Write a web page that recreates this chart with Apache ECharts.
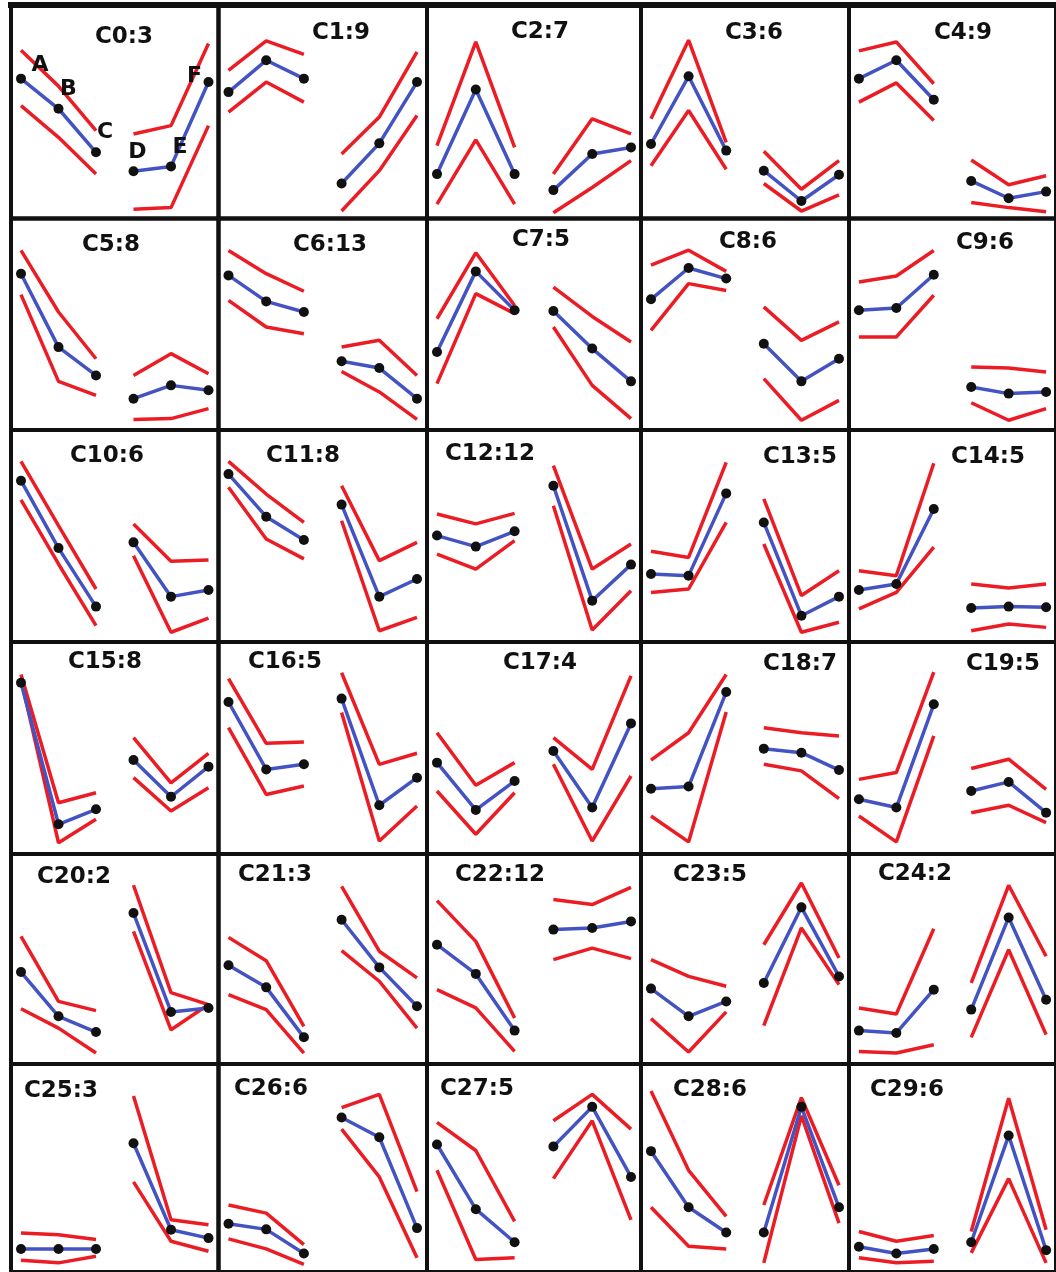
<!DOCTYPE html>
<html><head><meta charset="utf-8">
<script src="https://cdn.jsdelivr.net/npm/echarts@6/dist/echarts.min.js"></script>
<style>html,body{margin:0;padding:0;background:#fff}#c{width:1056px;height:1272px}</style>
</head><body><div id="c"></div>
<script>
// ---- data (values on a 0-100 scale within each panel) ----
const clusterTitles = ['C0:3','C1:9','C2:7','C3:6','C4:9','C5:8','C6:13','C7:5','C8:6','C9:6',
  'C10:6','C11:8','C12:12','C13:5','C14:5','C15:8','C16:5','C17:4','C18:7','C19:5',
  'C20:2','C21:3','C22:12','C23:5','C24:2','C25:3','C26:6','C27:5','C28:6','C29:6'];
const pointLabels = ['A','B','C','D','E','F'];
const meanValues = [
  [65.5,51.4,31.0,22.1,24.4,63.9],[59.2,74.1,65.5,16.4,35.2,63.9],[20.8,60.4,20.8,13.3,30.2,33.3],[34.9,66.6,31.8,22.4,8.2,20.5],[65.5,74.1,55.6,17.6,9.5,12.6],
  [73.9,39.2,25.8,14.8,21.1,18.8],[73.1,60.8,55.8,32.5,29.3,14.8],[36.9,75.0,56.6,56.3,38.5,23.0],[61.8,76.6,71.6,40.8,23.0,33.7],[56.6,57.7,73.4,20.3,17.2,18.0],
  [76.1,44.3,16.7,47.0,21.4,24.5],[79.2,59.1,48.1,64.8,21.4,29.7],[50.2,45.0,52.2,73.7,19.5,36.5],[32.1,31.3,70.1,56.4,12.4,21.4],[24.5,27.4,62.7,16.0,16.7,16.4],
  [80.8,14.0,21.1,44.3,27.0,41.2],[71.7,39.9,42.3,73.3,23.0,36.0],[43.1,20.8,34.4,48.6,21.9,61.6],[30.8,31.8,76.4,49.7,47.8,39.6],[25.8,21.9,70.6,29.7,34.0,19.5],
  [43.8,22.7,15.2,71.9,24.8,26.7],[47.0,36.5,12.7,68.7,46.0,27.5],[56.8,42.9,15.9,64.0,64.8,67.9],[35.9,22.7,29.8,38.6,74.6,41.7],[15.9,14.8,35.4,25.9,69.8,30.6],
  [11.1,11.1,11.1,61.9,20.3,16.3],[23.2,20.5,8.9,74.3,64.8,21.1],[61.3,30.2,14.3,60.3,79.4,45.7],[58.1,31.1,19.0,19.0,79.4,31.1],[12.1,8.9,11.1,14.3,65.6,10.5]
];
const upperValues = [
  [78.8,62.0,41.2,39.6,43.5,82.0],[69.4,83.2,76.9,30.2,47.5,78.0],[34.1,82.7,33.3,20.8,46.7,39.6],[46.7,83.5,35.7,31.5,13.7,27.1],[78.5,82.7,63.1,27.4,15.8,20.0],
  [84.9,55.8,33.7,25.8,36.1,26.6],[84.9,73.9,65.6,39.2,42.4,25.8],[52.6,83.8,58.9,67.6,53.7,41.6],[77.9,85.0,75.0,58.2,42.4,51.1],[70.0,72.8,84.9,29.8,29.3,27.4],
  [85.2,54.9,25.0,55.7,38.1,38.7],[85.2,69.8,56.4,73.7,38.4,47.0],[60.4,55.7,60.7,83.2,34.4,46.2],[42.8,39.9,84.7,67.5,21.9,33.6],[33.6,31.3,84.3,27.4,25.5,27.4],
  [84.7,24.2,28.9,54.9,33.6,47.5],[82.7,52.2,52.8,85.5,42.3,47.5],[57.2,32.4,43.1,54.9,39.9,84.0],[44.3,57.2,84.7,59.6,57.2,55.7],[35.2,38.4,85.8,40.3,44.7,30.5],
  [60.8,29.8,25.4,85.1,34.0,28.3],[60.3,49.2,17.9,84.6,53.7,41.0],[77.8,58.4,21.9,78.3,75.9,84.1],[49.7,41.7,37.0,56.8,86.2,50.5],[26.7,23.8,64.4,38.6,85.1,51.3],
  [18.7,17.9,15.6,84.6,25.1,22.7],[32.2,28.3,13.2,79.0,85.4,38.6],[71.9,58.4,24.3,72.7,85.4,68.7],[87.0,48.9,26.7,32.2,83.8,41.7],[19.5,14.8,17.5,19.5,83.5,20.3]
];
const lowerValues = [
  [52.9,38.0,20.8,4.3,5.1,43.5],[49.8,63.9,54.5,3.5,22.4,48.2],[6.7,36.8,6.7,2.7,14.5,27.1],[24.7,50.6,23.1,16.4,3.5,11.1],[54.5,63.5,45.9,7.5,5.1,3.2],
  [64.0,23.0,16.4,5.0,5.4,10.1],[61.3,48.7,45.5,27.7,18.0,5.0],[21.9,64.5,55.0,48.7,21.1,5.4],[47.1,69.2,66.0,24.3,4.6,14.0],[44.0,44.0,63.7,12.9,4.6,10.1],
  [67.0,36.8,7.7,40.7,4.6,11.3],[73.0,48.6,39.2,57.2,5.3,11.6],[41.5,34.4,47.8,64.3,5.7,24.2],[23.4,25.0,56.4,46.2,4.6,9.3],[15.6,23.4,44.7,5.3,8.5,6.9],
  [82.4,5.3,16.4,36.0,20.3,31.3],[59.6,28.1,32.1,66.7,6.1,22.6],[29.7,9.3,28.9,42.3,6.1,36.8],[17.9,5.7,67.0,42.3,39.2,26.1],[17.9,5.7,55.7,19.5,23.0,14.8],
  [26.3,17.1,5.2,63.2,16.3,28.3],[33.0,25.9,5.2,54.0,39.4,17.1],[35.4,26.7,6.0,49.7,55.2,50.2],[21.6,5.7,24.8,18.3,64.8,37.8],[6.0,5.2,9.2,12.7,54.4,14.0],
  [5.7,4.4,7.6,43.3,14.8,10.0],[15.9,11.1,3.7,68.7,45.7,6.8],[48.9,6.0,6.8,44.9,72.7,25.1],[31.1,12.4,11.1,4.4,75.1,23.5],[6.8,4.4,5.2,9.2,44.9,4.4]
];

// ---- layout ----
const colEdges = [11, 218.5, 427, 641, 849, 1058];
const rowEdges = [5, 218.5, 430, 642, 854, 1064, 1272];
const titlePos = [
  [124,37],[341,33],[540,32],[754,33],[963,33],
  [111,245],[330,245],[541,240],[748,242],[985,243],
  [107,456],[303,456],[490,454],[800,457],[988,457],
  [105,662],[285,662],[540,663],[800,664],[1003,664],
  [74,877],[275,875],[500,875],[710,875],[915,874],
  [61,1091],[271,1089],[477,1089],[710,1090],[907,1090]
];
const labelOffsets = [[19,-13],[10,-19],[9,-20],[4,-19],[9,-19],[-14,-6]];

const RED = '#ec1c24', BLUE = '#4353c2', INK = '#111';
const grids = [], xAxes = [], yAxes = [], series = [], graphics = [];

graphics.push({type:'rect', z:100, shape:{x:8, y:2, width:1050, height:6}, style:{fill:INK}});

for (let i = 0; i < 30; i++) {
  const r = Math.floor(i / 5), c = i % 5;
  const W = colEdges[c+1] - colEdges[c], H = rowEdges[r+1] - rowEdges[r];
  const step = (W - 20) / 5, pad = 10 / step;
  grids.push({left: colEdges[c], top: rowEdges[r], width: W, height: H,
    show: true, borderColor: INK, borderWidth: 4, backgroundColor: 'transparent'});
  xAxes.push({gridIndex: i, type: 'value', min: -pad, max: 5 + pad, show: false});
  yAxes.push({gridIndex: i, type: 'value', min: 0, max: 100, show: false});
  for (let g = 0; g < 2; g++) {
    const idx = [g*3, g*3+1, g*3+2];
    [[lowerValues, 'lower'], [upperValues, 'upper']].forEach(([vals]) => {
      series.push({type: 'line', xAxisIndex: i, yAxisIndex: i, symbol: 'none', silent: true, z: 2,
        lineStyle: {color: RED, width: 3.5}, data: idx.map(k => [k, vals[i][k]])});
    });
    series.push({type: 'line', xAxisIndex: i, yAxisIndex: i, symbol: 'circle', symbolSize: 10,
      silent: true, z: 3, lineStyle: {color: BLUE, width: 3.5}, itemStyle: {color: INK},
      data: idx.map(k => {
        const item = {value: [k, meanValues[i][k]]};
        if (i === 0) item.label = {show: true, position: 'inside', formatter: pointLabels[k],
          offset: labelOffsets[k], color: INK, fontFamily: 'DejaVu Sans', fontWeight: 'bold', fontSize: 22};
        return item;
      })});
  }
  graphics.push({type: 'text', z: 100, x: titlePos[i][0], y: titlePos[i][1],
    style: {text: clusterTitles[i], align: 'center', verticalAlign: 'middle',
      font: 'bold 23px "DejaVu Sans"', fill: INK}});
}

const chart = echarts.init(document.getElementById('c'), null, {renderer: 'canvas'});
chart.setOption({backgroundColor: '#fff', animation: false, grid: grids, xAxis: xAxes, yAxis: yAxes,
  series: series, graphic: graphics});
</script></body></html>
